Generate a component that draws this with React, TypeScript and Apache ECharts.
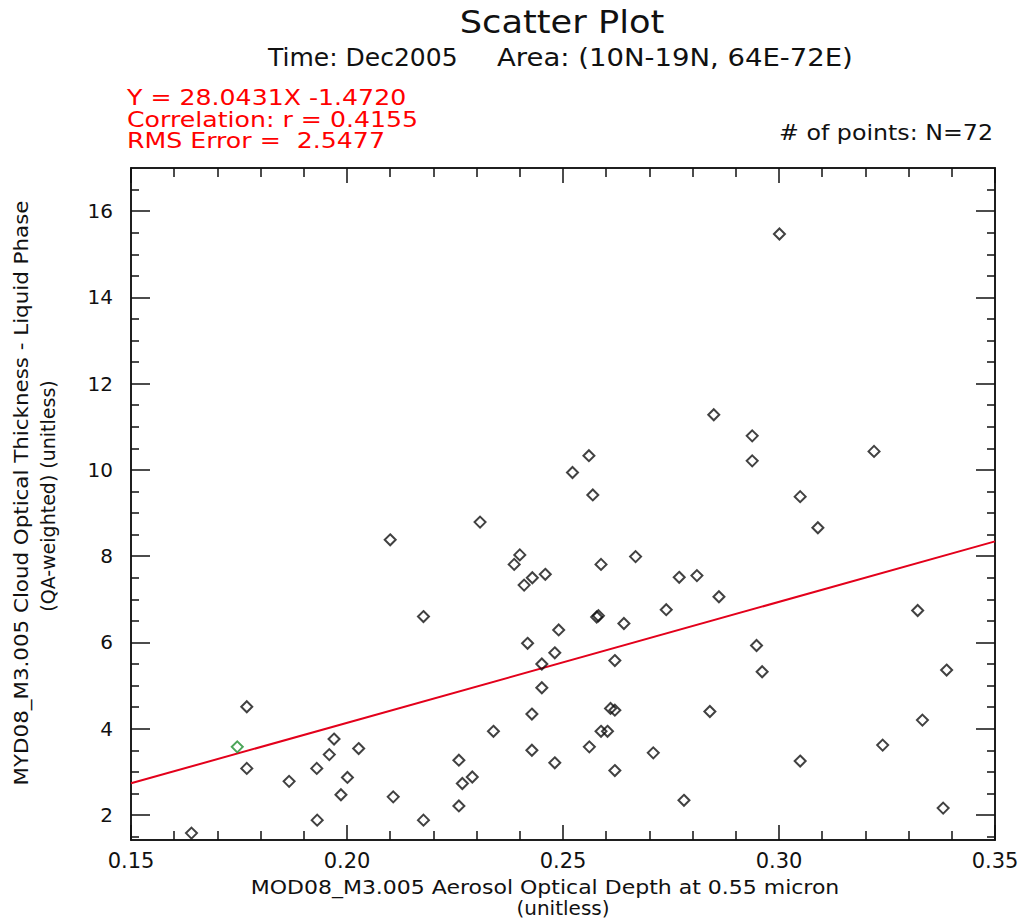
import React, { useEffect, useRef } from "react";
import * as echarts from "echarts";

// ---- data ----
const aod: number[] = [
  0.2100, 0.2177, 0.1768, 0.1768, 0.1866, 0.1930, 0.1959, 0.1970, 0.2027, 0.2001,
  0.1986, 0.2107, 0.1931, 0.2177, 0.1640, 0.2569, 0.2308, 0.2400, 0.2387, 0.2668,
  0.2588, 0.2459, 0.2429, 0.2410, 0.2769, 0.2810, 0.2861, 0.2578, 0.2582, 0.2739,
  0.2641, 0.2490, 0.2418, 0.2481, 0.2451, 0.2620, 0.2451, 0.2428, 0.2610, 0.2620,
  0.2840, 0.2339, 0.2588, 0.2603, 0.2561, 0.2428, 0.2709, 0.2259, 0.2481, 0.2620,
  0.2290, 0.2267, 0.2259, 0.2780, 0.2849, 0.2560, 0.2522, 0.3001, 0.2938, 0.2938,
  0.3220, 0.3049, 0.3090, 0.3321, 0.2948, 0.2961, 0.3388, 0.3332, 0.3240, 0.3049,
  0.3380,
];
const cot: number[] = [
  8.38, 6.60, 4.51, 3.08, 2.78, 3.08, 3.40, 3.76, 3.54, 2.87,
  2.47, 2.42, 1.88, 1.88, 1.58, 9.42, 8.79, 8.03, 7.81, 7.99,
  7.81, 7.58, 7.50, 7.33, 7.51, 7.55, 7.06, 6.59, 6.62, 6.76,
  6.44, 6.29, 5.98, 5.76, 5.50, 5.58, 4.95, 4.34, 4.47, 4.43,
  4.40, 3.94, 3.94, 3.94, 3.58, 3.50, 3.44, 3.27, 3.21, 3.03,
  2.88, 2.73, 2.21, 2.34, 11.28, 10.33, 9.94, 15.47, 10.79, 10.21,
  10.43, 9.38, 8.66, 6.74, 5.93, 5.32, 5.36, 4.20, 3.62, 3.25,
  2.16,
];
const greenAod: number[] = [0.1746];
const greenCot: number[] = [3.58];

const slope = 28.0431;
const intercept = -1.472;
const fitX: number[] = [0.15, 0.35];

const xMajor: number[] = [0.15, 0.2, 0.25, 0.3, 0.35];
const xMinor: number[] = [
  0.16, 0.17, 0.18, 0.19, 0.21, 0.22, 0.23, 0.24, 0.26, 0.27, 0.28, 0.29,
  0.31, 0.32, 0.33, 0.34,
];
const yMajor: number[] = [2, 4, 6, 8, 10, 12, 14, 16];
const yMinor: number[] = [
  1.5, 2.5, 3, 3.5, 4.5, 5, 5.5, 6.5, 7, 7.5, 8.5, 9, 9.5, 10.5, 11, 11.5,
  12.5, 13, 13.5, 14.5, 15, 15.5, 16.5,
];
const X_MIN = 0.15, X_MAX = 0.35, Y_MIN = 1.42, Y_MAX = 17;

const FONT = "DejaVu Sans";
const INK = "#111";

export default function App() {
  const ref = useRef<HTMLDivElement>(null);
  useEffect(() => {
    document.body.style.margin = "0";
    if (!ref.current) return;
    const chart = echarts.init(ref.current, undefined, { renderer: "svg" });

    const axisLine = { show: true, lineStyle: { color: INK, width: 1.5 } };
    const mkX = (pos: "top" | "bottom", vals: number[], len: number, labels: boolean) => ({
      type: "value",
      position: pos,
      min: X_MIN,
      max: X_MAX,
      axisLine,
      splitLine: { show: false },
      axisTick: { show: true, inside: true, length: len, customValues: vals, lineStyle: { color: INK, width: 1.5 } },
      axisLabel: labels
        ? { show: true, customValues: vals, formatter: (v: number) => v.toFixed(2), color: INK, fontFamily: FONT, fontSize: 21, margin: 10 }
        : { show: false },
    });
    const mkY = (pos: "left" | "right", vals: number[], len: number, labels: boolean) => ({
      type: "value",
      position: pos,
      min: Y_MIN,
      max: Y_MAX,
      axisLine,
      splitLine: { show: false },
      axisTick: { show: true, inside: true, length: len, customValues: vals, lineStyle: { color: INK, width: 1.5 } },
      axisLabel: labels
        ? { show: true, customValues: vals, formatter: (v: number) => String(v), color: INK, fontFamily: FONT, fontSize: 20, margin: 18 }
        : { show: false },
    });

    const points = aod.map((x, i) => [x, cot[i]]);
    const gpoints = greenAod.map((x, i) => [x, greenCot[i]]);
    const fit = fitX.map((x) => [x, slope * x + intercept]);

    const txt = (text: string, x: number, y: number, size: number, opts: any = {}) => ({
      type: "text",
      x,
      y,
      rotation: opts.rotation || 0,
      scaleX: opts.scaleX || 1,
      style: {
        text,
        fill: opts.fill || INK,
        font: `${size}px "${FONT}"`,
        align: opts.align || "left",
        verticalAlign: "middle",
      },
    });

    chart.setOption({
      animation: false,
      backgroundColor: "#fff",
      grid: { left: 131, right: 30, top: 168, bottom: 83, containLabel: false, outerBoundsMode: "none" },
      xAxis: [
        mkX("bottom", xMajor, 15, true),
        mkX("bottom", xMinor, 9, false),
        mkX("top", xMajor, 15, false),
        mkX("top", xMinor, 9, false),
      ],
      yAxis: [
        mkY("left", yMajor, 19, true),
        mkY("left", yMinor, 8, false),
        mkY("right", yMajor, 19, false),
        mkY("right", yMinor, 8, false),
      ],
      series: [
        {
          type: "line",
          data: fit,
          xAxisIndex: 0,
          yAxisIndex: 0,
          showSymbol: false,
          symbol: "none",
          lineStyle: { color: "#e3001b", width: 2 },
          z: 2,
        },
        {
          type: "scatter",
          data: points,
          xAxisIndex: 0,
          yAxisIndex: 0,
          symbol: "diamond",
          symbolSize: 11,
          itemStyle: { color: "rgba(255,255,255,0)", borderColor: "#111", borderWidth: 2 },
          z: 3,
        },
        {
          type: "scatter",
          data: gpoints,
          xAxisIndex: 0,
          yAxisIndex: 0,
          symbol: "diamond",
          symbolSize: 11,
          itemStyle: { color: "rgba(255,255,255,0)", borderColor: "#1f8f2f", borderWidth: 2 },
          z: 3,
        },
      ],
      graphic: [
        txt("Scatter Plot", 562, 22, 32, { align: "center", scaleX: 1.1 }),
        txt("Time: Dec2005", 268, 57, 25),
        txt("Area: (10N-19N, 64E-72E)", 497, 57, 25, { scaleX: 1.1 }),
        txt("Y = 28.0431X -1.4720", 127, 97, 21, { fill: "#ff0000", scaleX: 1.2 }),
        txt("Correlation: r = 0.4155", 127, 119, 21, { fill: "#ff0000", scaleX: 1.2 }),
        txt("RMS Error =  2.5477", 127, 140, 21, { fill: "#ff0000", scaleX: 1.2 }),
        txt("# of points: N=72", 993, 133, 21, { align: "right", scaleX: 1.13 }),
        txt("MOD08_M3.005 Aerosol Optical Depth at 0.55 micron", 545, 887, 20, { align: "center", scaleX: 1.1 }),
        txt("(unitless)", 563, 908, 20, { align: "center" }),
        txt("MYD08_M3.005 Cloud Optical Thickness - Liquid Phase", 21, 493, 20, { align: "center", rotation: Math.PI / 2, scaleX: 1.07 }),
        txt("(QA-weighted) (unitless)", 48, 496, 19, { align: "center", rotation: Math.PI / 2 }),
      ],
    });
    return () => chart.dispose();
  }, []);
  return <div ref={ref} style={{ width: 1025, height: 923 }} />;
}
